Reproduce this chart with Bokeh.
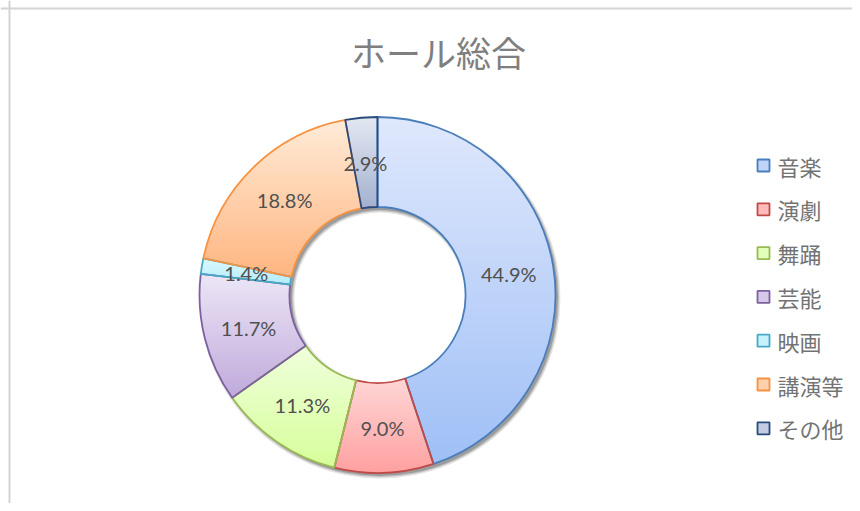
import math
from bokeh.plotting import figure
from bokeh.models import Range1d, Span
from bokeh.core.properties import value
from bokeh.embed import file_html
from bokeh.resources import INLINE

# ---- data ----
title_text = "ホール総合"
categories = ["音楽", "演劇", "舞踊", "芸能", "映画", "講演等", "その他"]
shares = [44.9, 9.0, 11.3, 11.7, 1.4, 18.8, 2.9]
labels = ["44.9%", "9.0%", "11.3%", "11.7%", "1.4%", "18.8%", "2.9%"]

# ---- styles ----
top_cols = ["#dfe8fc", "#ffd6d6", "#f0ffdc", "#ede6f6", "#dcf8fe", "#ffebd8", "#e3e8f1"]
bot_cols = ["#9fbff6", "#ffa0a0", "#d6fe9a", "#bfaadb", "#b2ecfa", "#ffb580", "#a3b0cf"]
line_cols = ["#4a7ebb", "#be4b48", "#98b954", "#7d60a0", "#46aac5", "#f69240", "#2a4b7c"]

W, H = 852, 503
CX, CY = 377, 208.5
R_OUT, R_IN = 178, 88
JP = "Noto Sans CJK JP"


def hex2rgb(h):
    h = h.lstrip("#")
    return tuple(int(h[i:i + 2], 16) for i in (0, 2, 4))


def mix(a, b, t):
    ra, rb = hex2rgb(a), hex2rgb(b)
    return "#%02x%02x%02x" % tuple(int(round(ra[i] + (rb[i] - ra[i]) * t)) for i in range(3))


def clip(poly, y0, keep_above):
    out = []
    n = len(poly)
    for i in range(n):
        p, q = poly[i], poly[(i + 1) % n]
        pin = p[1] >= y0 if keep_above else p[1] <= y0
        qin = q[1] >= y0 if keep_above else q[1] <= y0
        if pin:
            out.append(p)
        if pin != qin:
            t = (y0 - p[1]) / (q[1] - p[1])
            out.append((p[0] + t * (q[0] - p[0]), y0))
    return out


p = figure(width=W, height=H, x_range=Range1d(0, W), y_range=Range1d(0, H),
           output_backend="svg", toolbar_location=None, min_border=0)
p.axis.visible = False
p.grid.visible = False
p.outline_line_color = None
p.background_fill_color = "white"

# chart frame (left and top edges visible)
p.add_layout(Span(location=9, dimension="height", line_color="#d4d4d4", line_width=2))
p.add_layout(Span(location=H - 8, dimension="width", line_color="#d4d4d4", line_width=2))

# soft shadow
for dr, a in [(2.5, 0.10), (1.2, 0.14), (0.0, 0.20)]:
    p.annulus(x=CX + 2.5, y=CY - 3, inner_radius=R_IN - dr, outer_radius=R_OUT + dr,
              fill_color="black", fill_alpha=a, line_color=None)

total = sum(shares)
cum = 0.0
band_xs, band_ys, band_cols = [], [], []
starts, ends = [], []
for i, v in enumerate(shares):
    a0 = math.pi / 2 - 2 * math.pi * cum / total
    a1 = math.pi / 2 - 2 * math.pi * (cum + v) / total
    starts.append(a0)
    ends.append(a1)
    cum += v
    n = max(8, int(abs(a1 - a0) * 180 / math.pi * 2))
    poly = []
    for k in range(n + 1):
        t = a0 + (a1 - a0) * k / n
        poly.append((CX + R_OUT * math.cos(t), CY + R_OUT * math.sin(t)))
    for k in range(n + 1):
        t = a1 + (a0 - a1) * k / n
        poly.append((CX + R_IN * math.cos(t), CY + R_IN * math.sin(t)))
    ymin = min(q[1] for q in poly)
    ymax = max(q[1] for q in poly)
    step = 1.5
    y = ymax
    while y > ymin:
        lo = max(ymin, y - step - 0.6)
        part = clip(clip(poly, lo, True), y, False)
        if len(part) >= 3:
            tt = (ymax - (y - step / 2)) / (ymax - ymin)
            band_xs.append([q[0] for q in part])
            band_ys.append([q[1] for q in part])
            band_cols.append(mix(top_cols[i], bot_cols[i], min(max(tt, 0), 1)))
        y -= step

p.patches(xs=band_xs, ys=band_ys, fill_color=band_cols, line_color=None)

# slice outlines
p.annular_wedge(x=CX, y=CY, inner_radius=R_IN, outer_radius=R_OUT,
                start_angle=starts, end_angle=ends, direction="clock",
                fill_alpha=0, line_color=line_cols, line_width=1.8)

# data labels
R_MID = (R_IN + R_OUT) / 2
lx = [CX + R_MID * math.cos((s + e) / 2) for s, e in zip(starts, ends)]
ly = [CY + R_MID * math.sin((s + e) / 2) for s, e in zip(starts, ends)]
p.text(x=lx, y=ly, text=labels, text_align="center", text_baseline="middle",
       text_font=value("Lato"), text_font_size="20px", text_color="#505050")

# title
p.text(x=[438], y=[452], text=[title_text], text_align="center", text_baseline="middle",
       text_font=value(JP), text_font_size="35px", text_color="#7f7f7f")

# legend
leg_y = [338 - 43.8 * i for i in range(len(categories))]
leg_fill = [mix(t, b, 0.5) for t, b in zip(top_cols, bot_cols)]
p.scatter(x=[763] * len(categories), y=leg_y, marker="square", size=12,
          fill_color=leg_fill, line_color=line_cols, line_width=1.8)
p.text(x=[777] * len(categories), y=leg_y, text=categories, text_align="left",
       text_baseline="middle", text_font=value(JP), text_font_size="22px",
       text_color="#737373")

open("out.html", "w").write(file_html(p, INLINE))
